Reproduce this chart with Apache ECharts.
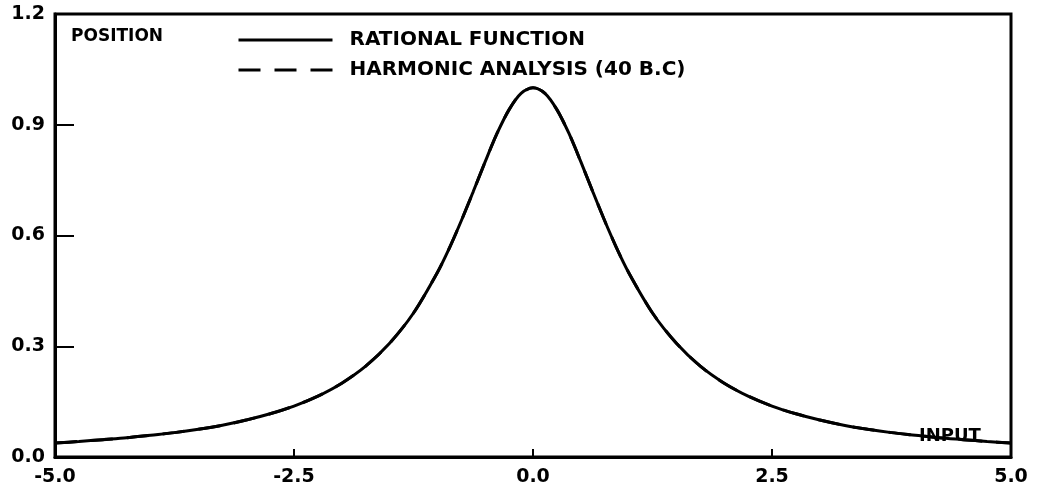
<!DOCTYPE html>
<html><head><meta charset="utf-8">
<script src="https://cdn.jsdelivr.net/npm/echarts@6/dist/echarts.min.js"></script>
<style>html,body{margin:0;padding:0;background:#fff}#c{width:1047px;height:496px}</style>
</head><body><div id="c"></div>
<script>
const inputs = [-5,-4.75,-4.5,-4.25,-4,-3.75,-3.5,-3.25,-3,-2.75,-2.5,-2.25,-2,-1.75,-1.5,-1.25,-1,-0.875,-0.75,-0.625,-0.5,-0.375,-0.25,-0.125,0,0.125,0.25,0.375,0.5,0.625,0.75,0.875,1,1.25,1.5,1.75,2,2.25,2.5,2.75,3,3.25,3.5,3.75,4,4.25,4.5,4.75,5];
const rationalValues = [0.038,0.042,0.047,0.052,0.059,0.066,0.075,0.086,0.100,0.117,0.138,0.165,0.200,0.246,0.308,0.390,0.500,0.566,0.640,0.719,0.800,0.877,0.941,0.985,1.000,0.985,0.941,0.877,0.800,0.719,0.640,0.566,0.500,0.390,0.308,0.246,0.200,0.165,0.138,0.117,0.100,0.086,0.075,0.066,0.059,0.052,0.047,0.042,0.038];
const harmonicValues = [0.038,0.042,0.047,0.052,0.059,0.066,0.075,0.086,0.100,0.117,0.138,0.165,0.200,0.246,0.308,0.390,0.500,0.566,0.640,0.719,0.800,0.877,0.941,0.985,1.000,0.985,0.941,0.877,0.800,0.719,0.640,0.566,0.500,0.390,0.308,0.246,0.200,0.165,0.138,0.117,0.100,0.086,0.075,0.066,0.059,0.052,0.047,0.042,0.038];
const seriesNames = ['RATIONAL FUNCTION','HARMONIC ANALYSIS (40 B.C)'];
const xTicks = ['-5.0','-2.5','0.0','2.5','5.0'];
const yTicks = ['0.0','0.3','0.6','0.9','1.2'];

const FONT = 'DejaVu Sans';
const chart = echarts.init(document.getElementById('c'), null, {renderer:'canvas'});
chart.setOption({
  animation:false,
  backgroundColor:'#fff',
  grid:{left:55,right:36,top:14,bottom:39,show:true,borderColor:'#000',borderWidth:3,backgroundColor:'transparent'},
  legend:{
    orient:'vertical', left:232, top:25, itemWidth:94, itemHeight:12, itemGap:10,
    itemStyle:{opacity:0},
    lineStyle:{width:3},
    textStyle:{fontFamily:FONT,fontWeight:'bold',fontSize:20,color:'#000',padding:[0,0,0,12]},
    data:[{name:seriesNames[0]},{name:seriesNames[1]}]
  },
  xAxis:{
    type:'value', min:-5, max:5, interval:2.5,
    name:'INPUT', nameLocation:'end', nameGap:-92,
    nameTextStyle:{fontFamily:FONT,fontWeight:'bold',fontSize:18,color:'#000',verticalAlign:'bottom',padding:[0,0,12,0]},
    axisLine:{onZero:false,lineStyle:{color:'#000',width:3}},
    axisTick:{inside:true,length:8,lineStyle:{color:'#000',width:2}},
    axisLabel:{fontFamily:FONT,fontWeight:'bold',fontSize:19,color:'#000',margin:11,
      formatter:v=>xTicks[Math.round((v+5)/2.5)]},
    splitLine:{show:false}
  },
  yAxis:{
    type:'value', min:0, max:1.2, interval:0.3,
    name:'POSITION', nameLocation:'end', nameGap:-31,
    nameTextStyle:{fontFamily:FONT,fontWeight:'bold',fontSize:17,color:'#000',align:'left',padding:[0,0,0,16]},
    axisLine:{onZero:false,lineStyle:{color:'#000',width:3}},
    axisTick:{inside:true,length:19,lineStyle:{color:'#000',width:2}},
    axisLabel:{fontFamily:FONT,fontWeight:'bold',fontSize:19,color:'#000',margin:10,
      formatter:v=>yTicks[Math.round(v/0.3)]},
    splitLine:{show:false}
  },
  series:[
    {name:seriesNames[1],type:'line',symbol:'none',smooth:0.3,z:2,
     lineStyle:{color:'#000',width:3,type:[22,14]},itemStyle:{color:'#000'},
     data:inputs.map((x,i)=>[x,harmonicValues[i]])},
    {name:seriesNames[0],type:'line',symbol:'none',smooth:0.3,z:3,
     lineStyle:{color:'#000',width:3,type:'solid'},itemStyle:{color:'#000'},
     data:inputs.map((x,i)=>[x,rationalValues[i]])}
  ]
});
</script></body></html>
